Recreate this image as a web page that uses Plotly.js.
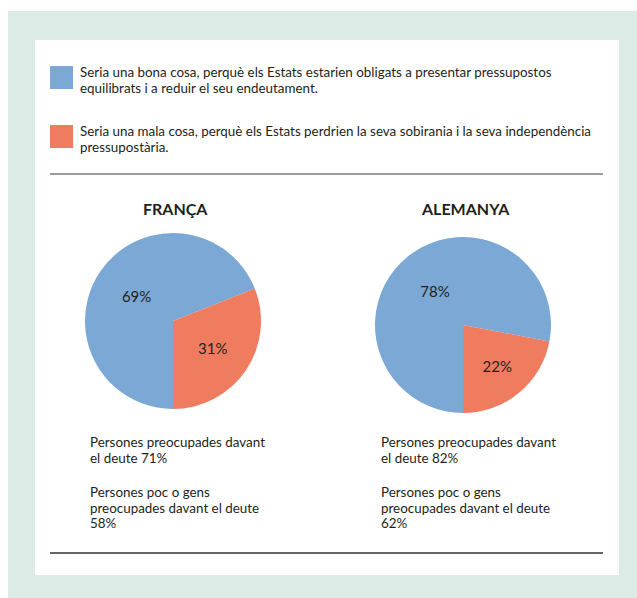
<!DOCTYPE html>
<html>
<head>
<meta charset="utf-8">
<script src="https://cdn.plot.ly/plotly-3.0.1.min.js"></script>
<style>
  html, body { margin: 0; padding: 0; background: #ffffff; }
  #chart { width: 637px; height: 598px; }
</style>
</head>
<body>
<div id="chart"></div>
<script>
// ---- data ----
const countries = ["FRANÇA", "ALEMANYA"];
const sliceLabels = [
  "Seria una bona cosa, perquè els Estats estarien obligats a presentar pressupostos equilibrats i a reduir el seu endeutament.",
  "Seria una mala cosa, perquè els Estats perdrien la seva sobirania i la seva independència pressupostària."
];
const legendLines = [
  ["Seria una bona cosa, perquè els Estats estarien obligats a presentar pressupostos", "equilibrats i a reduir el seu endeutament."],
  ["Seria una mala cosa, perquè els Estats perdrien la seva sobirania i la seva independència", "pressupostària."]
];
const francaValues = [69, 31];
const alemanyaValues = [78, 22];
const concerned = [71, 82];      // Persones preocupades davant el deute (%)
const notConcerned = [58, 62];   // Persones poc o gens preocupades davant el deute (%)
const sliceColors = ["#7ba8d5", "#f07c60"];

// ---- layout helpers ----
const W = 637, H = 598;
const px = x => x / W;
const py = y => 1 - y / H;
const FONT = "Lato, 'Open Sans', sans-serif";
const TXT = "#231f20";
const BODY = 13.4;

function pieTrace(values, cx, cy, r, name) {
  return {
    type: "pie",
    name: name,
    labels: sliceLabels,
    values: values,
    sort: false,
    direction: "clockwise",
    rotation: 180,
    marker: { colors: sliceColors, line: { width: 0 } },
    texttemplate: "%{value}%",
    textposition: "inside",
    insidetextorientation: "horizontal",
    textfont: { family: FONT, size: 15, color: TXT },
    hoverinfo: "label+percent",
    showlegend: false,
    domain: { x: [px(cx - r), px(cx + r)], y: [py(cy + r), py(cy - r)] }
  };
}

const data = [
  pieTrace(francaValues, 173, 321, 88, countries[0]),
  pieTrace(alemanyaValues, 463, 325, 88, countries[1])
];

const shapes = [
  { type: "rect", xref: "paper", yref: "paper", x0: px(8), x1: px(637), y0: py(598), y1: py(11),
    fillcolor: "#ddebe6", line: { width: 0 }, layer: "below" },
  { type: "rect", xref: "paper", yref: "paper", x0: px(35), x1: px(619), y0: py(575), y1: py(40),
    fillcolor: "#ffffff", line: { width: 0 }, layer: "below" },
  { type: "line", xref: "paper", yref: "paper", x0: px(50), x1: px(603), y0: py(174), y1: py(174),
    line: { color: "#7a7a7a", width: 1.5 } },
  { type: "line", xref: "paper", yref: "paper", x0: px(50), x1: px(603), y0: py(553), y1: py(553),
    line: { color: "#333333", width: 1.5 } }
];

const annotations = [];
const legendTop = [66, 125];
legendLines.forEach((lines, i) => {
  shapes.push({ type: "rect", xref: "paper", yref: "paper",
    x0: px(50), x1: px(73), y0: py(legendTop[i] + 23), y1: py(legendTop[i]),
    fillcolor: sliceColors[i], line: { width: 0 } });
  lines.forEach((ln, j) => {
    annotations.push({ xref: "paper", yref: "paper", x: px(78), y: py(legendTop[i] + 6 + j * 15.5),
      xanchor: "left", yanchor: "middle", showarrow: false, text: ln,
      font: { family: FONT, size: BODY, color: TXT } });
  });
});

const titleX = [175, 465];
countries.forEach((c, i) => {
  annotations.push({ xref: "paper", yref: "paper", x: px(titleX[i]), y: py(208),
    xanchor: "center", yanchor: "middle", showarrow: false, text: "<b>" + c + "</b>",
    font: { family: FONT, size: 16, color: TXT } });
});

const noteX = [88, 379];
countries.forEach((c, i) => {
  const lines = [
    ["Persones preocupades davant", 442],
    ["el deute " + concerned[i] + "%", 457.5],
    ["Persones poc o gens", 492],
    ["preocupades davant el deute", 507.5],
    [notConcerned[i] + "%", 523]
  ];
  lines.forEach(([t, y]) => {
    annotations.push({ xref: "paper", yref: "paper", x: px(noteX[i]), y: py(y),
      xanchor: "left", yanchor: "middle", showarrow: false, text: t,
      font: { family: FONT, size: BODY, color: TXT } });
  });
});

const layout = {
  width: W, height: H,
  margin: { l: 0, r: 0, t: 0, b: 0, pad: 0 },
  paper_bgcolor: "#ffffff",
  plot_bgcolor: "#ffffff",
  showlegend: false,
  shapes: shapes,
  annotations: annotations,
  font: { family: FONT, color: TXT }
};

Plotly.newPlot("chart", data, layout, { displayModeBar: false, staticPlot: true });
</script>
</body>
</html>
